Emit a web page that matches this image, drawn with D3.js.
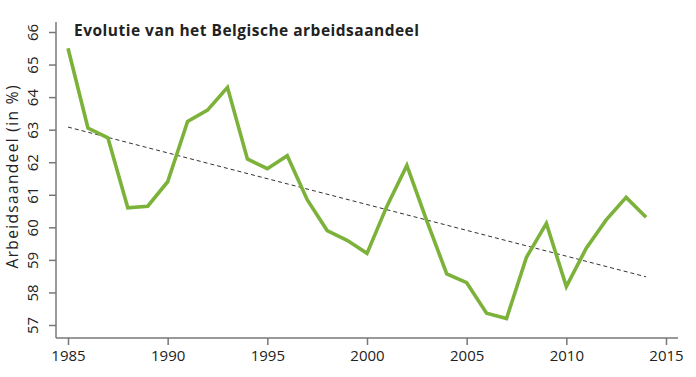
<!doctype html>
<html lang="nl">
<head>
<meta charset="utf-8">
<title>Evolutie van het Belgische arbeidsaandeel</title>
<style>
  body { margin: 0; background: #fff; }
  svg { display: block; }
  text { font-family: "Open Sans", "DejaVu Sans", sans-serif; fill: #222; }
</style>
</head>
<body>
<svg width="696" height="377"></svg>
<script src="https://d3js.org/d3.v7.min.js"></script>
<script>
  var years = d3.range(1985, 2015);
  var share = [65.5, 63.05, 62.75, 60.6, 60.65, 61.4, 63.25, 63.6, 64.3, 62.1,
               61.8, 62.2, 60.85, 59.9, 59.6, 59.2, 60.65, 61.9, 60.2, 58.57,
               58.3, 57.36, 57.2, 59.08, 60.12, 58.18, 59.36, 60.23, 60.92, 60.31];
  var trendYears = [1985, 2014];
  var trendValues = [63.08, 58.48];
  var xTicks = [1985, 1990, 1995, 2000, 2005, 2010, 2015];
  var yTicks = [57, 58, 59, 60, 61, 62, 63, 64, 65, 66];

  var svg = d3.select("svg");

  var x = d3.scaleLinear().domain([1985, 2015]).range([68, 666]);
  var y = d3.scaleLinear().domain([57, 66]).range([325, 32]);

  // assen, R-stijl: losse lijnen die niet bij elkaar komen
  var axisColor = "#777";

  var xAxis = svg.append("g")
      .attr("transform", "translate(0,338)")
      .call(d3.axisBottom(x).tickValues(xTicks).tickFormat(d3.format("d")).tickSize(7).tickPadding(3));
  xAxis.select(".domain").attr("d", "M56,0H678");

  var yAxis = svg.append("g")
      .attr("transform", "translate(56,0)")
      .call(d3.axisLeft(y).tickValues(yTicks).tickSize(7).tickPadding(0));
  yAxis.select(".domain").attr("d", "M0,22V338");

  svg.selectAll(".domain").attr("stroke", axisColor).attr("stroke-width", 1.5);
  svg.selectAll(".tick line").attr("stroke", axisColor).attr("stroke-width", 1.5);
  svg.selectAll(".tick text").style("font-size", "15px").attr("fill", "#222");

  xAxis.selectAll(".tick text").attr("dy", "0.85em");

  yAxis.selectAll(".tick text")
      .attr("text-anchor", "middle")
      .attr("x", null)
      .attr("transform", "translate(-18,0) rotate(-90)")
      .attr("dy", "0em");

  // trendlijn
  var trend = trendYears.map(function(d, i) { return [d, trendValues[i]]; });
  svg.append("path")
      .datum(trend)
      .attr("fill", "none")
      .attr("stroke", "#333")
      .attr("stroke-width", 1)
      .attr("stroke-dasharray", "4,3")
      .attr("d", d3.line().x(function(d) { return x(d[0]); }).y(function(d) { return y(d[1]); }));

  // arbeidsaandeel
  svg.append("path")
      .datum(years.map(function(d, i) { return [d, share[i]]; }))
      .attr("fill", "none")
      .attr("stroke", "#7cb23a")
      .attr("stroke-width", 3.6)
      .attr("stroke-linejoin", "miter")
      .attr("d", d3.line().x(function(d) { return x(d[0]); }).y(function(d) { return y(d[1]); }));

  svg.append("text")
      .attr("x", 74)
      .attr("y", 36)
      .attr("textLength", 345)
      .style("font-size", "15.5px")
      .style("font-weight", "bold")
      .attr("fill", "#111")
      .text("Evolutie van het Belgische arbeidsaandeel");

  svg.append("text")
      .attr("transform", "translate(18,177) rotate(-90)")
      .attr("text-anchor", "middle")
      .attr("textLength", 183)
      .style("font-size", "15.5px")
      .text("Arbeidsaandeel (in %)");
</script>
</body>
</html>
